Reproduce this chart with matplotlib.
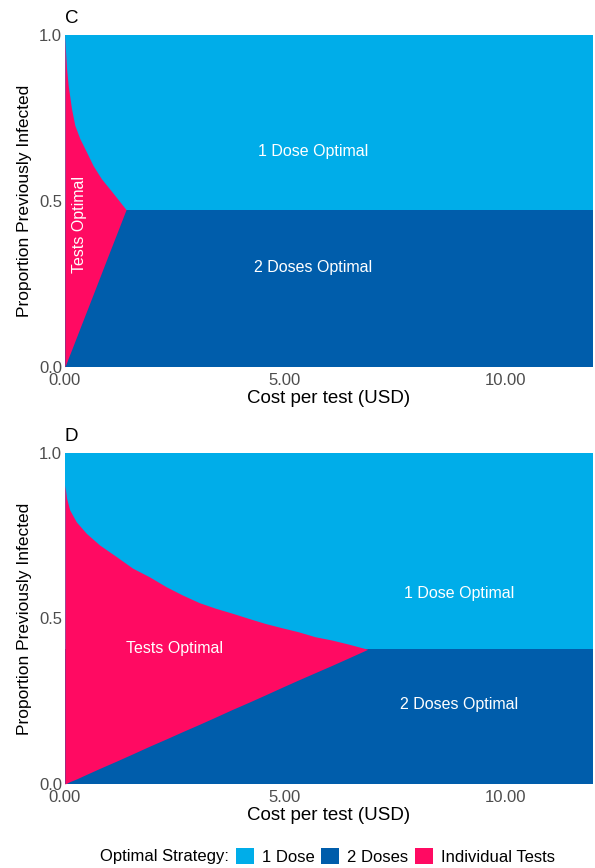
import matplotlib
matplotlib.use("Agg")
from matplotlib import pyplot as plt
from matplotlib.patches import Patch

plt.rcParams['font.family'] = ['Liberation Sans', 'DejaVu Sans']

"""
Data read off the figure
"""
# panel C
c_cost = [0.0, 0.015, 0.038, 0.075, 0.15, 0.226, 0.34, 0.49, 0.64, 0.83, 1.02, 1.20, 1.39]
c_upper = [1.0, 0.951, 0.900, 0.849, 0.779, 0.728, 0.688, 0.648, 0.607, 0.567, 0.536, 0.506, 0.474]
c_lower = [0.0, 0.005, 0.013, 0.026, 0.051, 0.077, 0.116, 0.167, 0.218, 0.283, 0.348, 0.409, 0.474]
c_split = 0.474

# panel D
d_cost = [0.0, 0.04, 0.11, 0.26, 0.49, 0.79, 1.17, 1.54, 1.92, 2.30, 2.67,
          3.05, 3.42, 3.80, 4.18, 4.55, 4.93, 5.30, 5.68, 6.06, 6.43, 6.88]
d_upper = [0.903, 0.863, 0.828, 0.792, 0.757, 0.722, 0.687, 0.652, 0.626, 0.596, 0.571,
           0.548, 0.531, 0.516, 0.500, 0.485, 0.472, 0.460, 0.445, 0.435, 0.423, 0.407]
d_lower = [0.0, 0.002, 0.007, 0.015, 0.029, 0.047, 0.069, 0.091, 0.114, 0.136, 0.158,
           0.180, 0.202, 0.225, 0.247, 0.269, 0.292, 0.314, 0.336, 0.358, 0.380, 0.407]
d_split = 0.407

x_max = 12.0
x_ticks = [0, 5, 10]
x_ticklabels = ["0.00", "5.00", "10.00"]
y_ticks = [0, 0.5, 1.0]
y_ticklabels = ["0.0", "0.5", "1.0"]

strategies = ["1 Dose", "2 Doses", "Individual Tests"]
colors = ["#00ADE9", "#005DAB", "#FF0A62"]

# label positions (cost, proportion)
c_labels = {"one": (5.64, 0.65), "two": (5.64, 0.30), "tests": (0.34, 0.43)}
d_labels = {"one": (8.95, 0.577), "two": (8.95, 0.239), "tests": (2.48, 0.408)}


def draw_panel(ax, cost, upper, lower, split, labels, tests_rot, letter):
    ax.fill_between([0, x_max], [split, split], [1, 1], color=colors[0], lw=0)
    ax.fill_between([0, x_max], [0, 0], [split, split], color=colors[1], lw=0)
    ax.fill_between(cost, lower, upper, color=colors[2], lw=0)

    ax.set_xlim(0, x_max)
    ax.set_ylim(0, 1)
    ax.set_xticks(x_ticks)
    ax.set_xticklabels(x_ticklabels)
    ax.set_yticks(y_ticks)
    ax.set_yticklabels(y_ticklabels)
    ax.tick_params(length=0, labelsize=12, labelcolor="#4D4D4D")
    ax.tick_params(axis="x", pad=4.5)
    ax.tick_params(axis="y", pad=2)
    for s in ax.spines.values():
        s.set_visible(False)
    ax.set_xlabel("Cost per test (USD)", fontsize=13.5, labelpad=1)
    ax.set_ylabel("Proportion Previously Infected", fontsize=12.5, labelpad=5)

    kw = dict(color="white", fontsize=11.5, ha="center", va="center")
    ax.text(*labels["one"], "1 Dose Optimal", **kw)
    ax.text(*labels["two"], "2 Doses Optimal", **kw)
    ax.text(*labels["tests"], "Tests Optimal", rotation=tests_rot, **kw)
    ax.text(0.0, 1.025, letter, transform=ax.transAxes, fontsize=13.5,
            ha="left", va="bottom")


fig = plt.figure(figsize=(5.95, 8.68), dpi=100)
ax_c = fig.add_axes([0.109, 0.5772, 0.888, 0.3825])
ax_d = fig.add_axes([0.109, 0.0968, 0.888, 0.3813])

draw_panel(ax_c, c_cost, c_upper, c_lower, c_split, c_labels, 90, "C")
draw_panel(ax_d, d_cost, d_upper, d_lower, d_split, d_labels, 0, "D")

handles = [Patch(facecolor=c, edgecolor="none") for c in colors]
fig.text(0.385, 0.0135, "Optimal Strategy:", fontsize=12, ha="right", va="center")
fig.legend(handles, strategies, loc="center left", bbox_to_anchor=(0.397, 0.0135),
           ncol=3, frameon=False, fontsize=12, handlelength=1.05, handleheight=1.15,
           handletextpad=0.5, columnspacing=0.4, borderpad=0, borderaxespad=0)

fig.savefig("out.png", dpi=100)
